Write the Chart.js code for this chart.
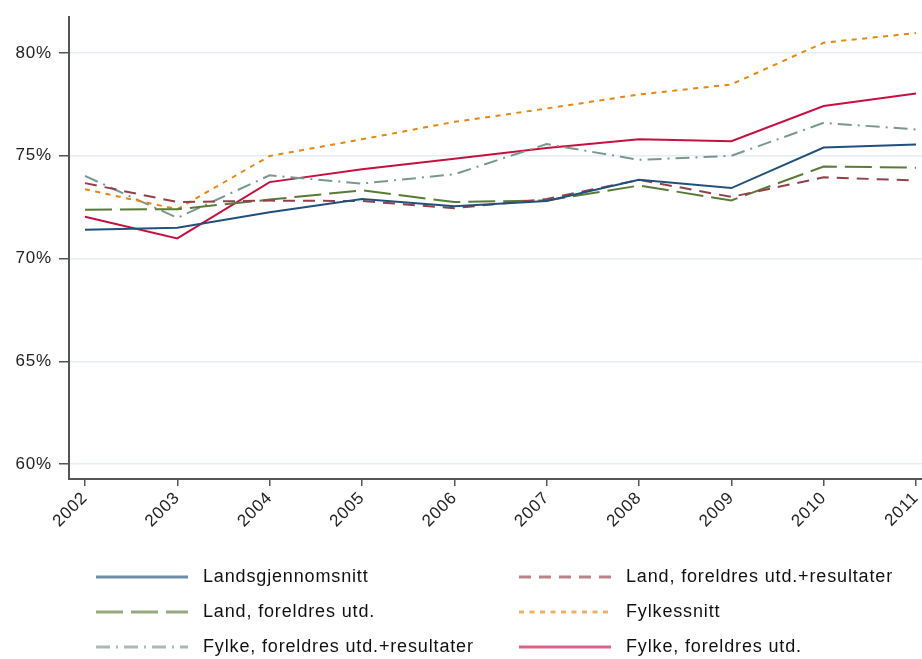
<!DOCTYPE html>
<html>
<head>
<meta charset="utf-8">
<script src="https://cdn.jsdelivr.net/npm/chart.js@4"></script>
<style>
  html, body { margin: 0; padding: 0; background: #fff; }
  #wrap { width: 922px; height: 659px; position: relative; }
</style>
</head>
<body>
<div id="wrap"><canvas id="chart" width="922" height="659"></canvas></div>
<script>
// Years on the x axis
const years = [2002, 2003, 2004, 2005, 2006, 2007, 2008, 2009, 2010, 2011];
const yTicks = [60, 65, 70, 75, 80];

// Series values (percent)
const landsgjennomsnitt = [71.4, 71.5, 72.25, 72.9, 72.55, 72.8, 73.83, 73.43, 75.4, 75.55];
const landForeldresRes = [73.67, 72.75, 72.82, 72.8, 72.45, 72.9, 73.83, 73.0, 73.95, 73.8];
const landForeldres = [72.38, 72.4, 72.87, 73.32, 72.75, 72.83, 73.55, 72.83, 74.48, 74.42];
const fylkessnitt = [73.37, 72.4, 74.99, 75.8, 76.65, 77.3, 77.98, 78.47, 80.5, 80.97];
const fylkeForeldresRes = [74.02, 71.98, 74.05, 73.65, 74.1, 75.57, 74.8, 75.0, 76.6, 76.28];
const fylkeForeldres = [72.03, 70.98, 73.72, 74.35, 74.85, 75.38, 75.8, 75.71, 77.42, 78.03];

const labels = [
    "Landsgjennomsnitt",
    "Land, foreldres utd.+resultater",
    "Land, foreldres utd.",
    "Fylkessnitt",
    "Fylke, foreldres utd.+resultater",
    "Fylke, foreldres utd."
];
const series = [landsgjennomsnitt, landForeldresRes, landForeldres, fylkessnitt, fylkeForeldresRes, fylkeForeldres];
const colors = ["#22507c", "#93404a", "#5a7b35", "#e8860e", "#789890", "#c81040"];
const dashes = [[], [12, 8], [27, 8], [5, 5.5], [14, 6, 2, 6], []];

const FONT = "'Liberation Sans', Arial, sans-serif";

function toPoints(values) {
    return values.map((v, i) => ({ x: years[i], y: v }));
}

// slightly wider text, like the original
const spacingPlugin = {
    id: 'spacing',
    beforeDraw(chart) { chart.ctx.letterSpacing = "0.8px"; }
};

// Legend drawn in the space under the x axis, two columns
const legendPlugin = {
    id: 'twoColLegend',
    afterDraw(chart) {
        const ctx = chart.ctx;
        const colX = [96, 519];
        const rowY = [577, 612, 647];
        const swatch = 92;
        ctx.save();
        ctx.font = "18px " + FONT;
        ctx.letterSpacing = "0.85px";
        ctx.textBaseline = "middle";
        chart.data.datasets.forEach((ds, i) => {
            const x = colX[i % 2];
            const y = rowY[Math.floor(i / 2)];
            ctx.globalAlpha = 0.65;
            ctx.strokeStyle = ds.borderColor;
            ctx.lineWidth = 3;
            ctx.setLineDash(ds.borderDash);
            ctx.beginPath();
            ctx.moveTo(x, y);
            ctx.lineTo(x + swatch, y);
            ctx.stroke();
            ctx.setLineDash([]);
            ctx.globalAlpha = 1;
            ctx.fillStyle = "#111";
            ctx.fillText(ds.label, x + swatch + 15, y);
        });
        ctx.restore();
    }
};

const ctx = document.getElementById('chart').getContext('2d');
new Chart(ctx, {
    type: 'line',
    data: {
        datasets: series.map((vals, i) => ({
            label: labels[i],
            data: toPoints(vals),
            borderColor: colors[i],
            borderDash: dashes[i],
            borderWidth: 2,
            pointRadius: 0,
            fill: false,
            tension: 0
        }))
    },
    options: {
        responsive: false,
        animation: false,
        layout: { padding: { top: 14, right: 0, left: 0, bottom: 0 } },
        plugins: {
            legend: { display: false },
            tooltip: { enabled: false }
        },
        scales: {
            x: {
                type: 'linear',
                min: 2001.827,
                max: 2011.065,
                afterBuildTicks: (scale) => { scale.ticks = years.map(v => ({ value: v })); },
                afterFit: (scale) => {
                    scale.height = 180;
                    scale.paddingLeft = 0;
                    scale.paddingRight = 0;
                },
                grid: {
                    drawOnChartArea: false,
                    drawTicks: true,
                    tickLength: 7,
                    tickColor: "#555",
                    lineWidth: 1.5
                },
                border: { display: true, color: "#555", width: 2 },
                ticks: {
                    minRotation: 45,
                    maxRotation: 45,
                    padding: 2,
                    color: "#222",
                    font: { family: FONT, size: 17 },
                    callback: (v) => String(v)
                }
            },
            y: {
                min: 59.28,
                max: 81.74,
                afterBuildTicks: (scale) => { scale.ticks = yTicks.map(v => ({ value: v })); },
                afterFit: (scale) => { scale.width = 69; },
                grid: {
                    color: "#e4eef1",
                    lineWidth: 1.5,
                    drawTicks: true,
                    tickLength: 10,
                    tickColor: "#555"
                },
                border: { display: true, color: "#555", width: 2 },
                ticks: {
                    padding: 7,
                    color: "#222",
                    font: { family: FONT, size: 17 },
                    callback: (v) => v + "%"
                }
            }
        }
    },
    plugins: [spacingPlugin, legendPlugin]
});
</script>
</body>
</html>
